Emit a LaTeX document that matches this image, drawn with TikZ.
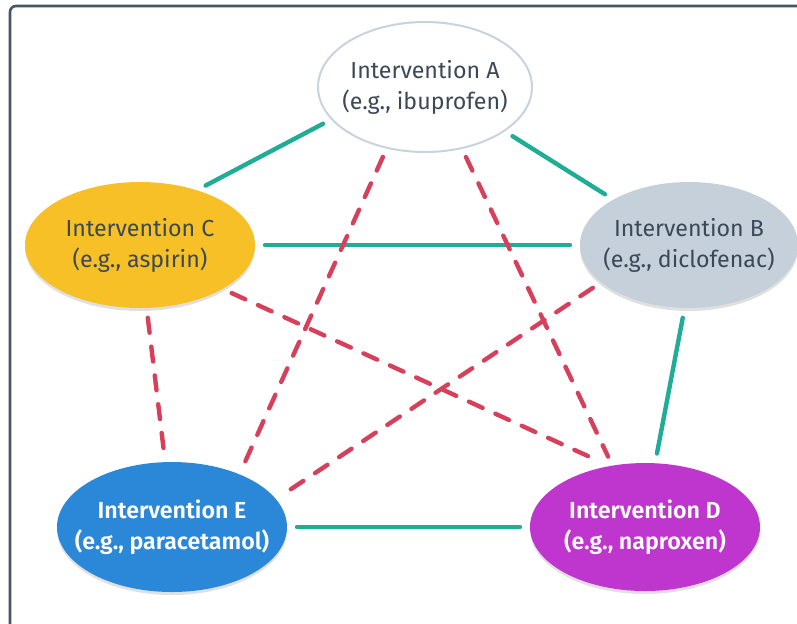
\documentclass[tikz,border=0pt]{standalone}
\usepackage{fontspec}
\setmainfont{Fira Sans}[BoldFont={Fira Sans SemiBold}]
\usetikzlibrary{shapes.geometric,shadows}

\definecolor{framecol}{HTML}{465566}
\definecolor{linkok}{HTML}{20AD96}
\definecolor{linkno}{HTML}{D6405B}
\definecolor{ringA}{HTML}{C8D3DE}
\definecolor{fillC}{HTML}{F6C026}
\definecolor{fillB}{HTML}{C5D0DB}
\definecolor{fillE}{HTML}{2B88D9}
\definecolor{fillD}{HTML}{BE36CD}
\definecolor{inkdark}{HTML}{3B4856}

\begin{document}
\begin{tikzpicture}[x=0.5pt,y=-0.5pt,
  bubble/.style={ellipse, inner sep=0pt, outer sep=0pt, draw=none},
  shade/.style={drop shadow={shadow xshift=0pt, shadow yshift=-1.5pt, opacity=0.12, fill=black}},
  caption/.style={align=center, inner sep=0pt, font=\fontsize{11.6}{15.5}\selectfont},
  bolder/.style={font=\fontsize{11.6}{15.5}\selectfont\bfseries},
  agree/.style={draw=linkok, line width=2.2pt, line cap=round, shorten <=5pt, shorten >=5pt},
  conflict/.style={draw=linkno, line width=2.2pt, line cap=round,
    dash pattern=on 7.5pt off 7pt, shorten <=5pt, shorten >=5pt}]

  \useasboundingbox (0,0) rectangle (797,623);
  % outer frame
  \draw[framecol, line width=1.3pt, rounded corners=3pt] (10,6) rectangle (806,630);

  % interventions
  \node[bubble, draw=ringA, line width=1pt, fill=white,
        minimum width=107pt, minimum height=65pt] (A) at (425,87) {};
  \node[bubble, shade, fill=fillC, minimum width=115pt, minimum height=63pt] (C) at (140,245) {};
  \node[bubble, shade, fill=fillB, minimum width=109pt, minimum height=63pt] (B) at (689,245) {};
  \node[bubble, shade, fill=fillE, minimum width=115pt, minimum height=65pt] (E) at (172,527) {};
  \node[bubble, shade, fill=fillD, minimum width=115pt, minimum height=64pt] (D) at (645,527) {};

  \node[caption, text=inkdark] (At) at (A) {Intervention A\\(e.g., ibuprofen)};
  \node[caption, text=inkdark] (Ct) at (C) {Intervention C\\(e.g., aspirin)};
  \node[caption, text=inkdark] (Bt) at (B) {Intervention B\\(e.g., diclofenac)};
  \node[caption, bolder, text=white] (Et) at (E) {Intervention E\\(e.g., paracetamol)};
  \node[caption, bolder, text=white] (Dt) at (D) {Intervention D\\(e.g., naproxen)};

  % direct comparisons
  \draw[agree] (A.199) -- (C.44);
  \draw[agree] (A.331) -- (B.149);
  \draw[agree] (C.0) -- (B.180);
  \draw[agree] (B.266) -- (D.81);
  \draw[agree] (E.0) -- (D.180);

  % conflicting comparisons
  \draw[conflict] (A.238) -- (E.38);
  \draw[conflict] (A.301) -- (D.118);
  \draw[conflict] (C.276) -- (E.96);
  \draw[conflict] (C.332) -- (D.120);
  \draw[conflict] (B.203) -- (E.15);
\end{tikzpicture}
\end{document}
